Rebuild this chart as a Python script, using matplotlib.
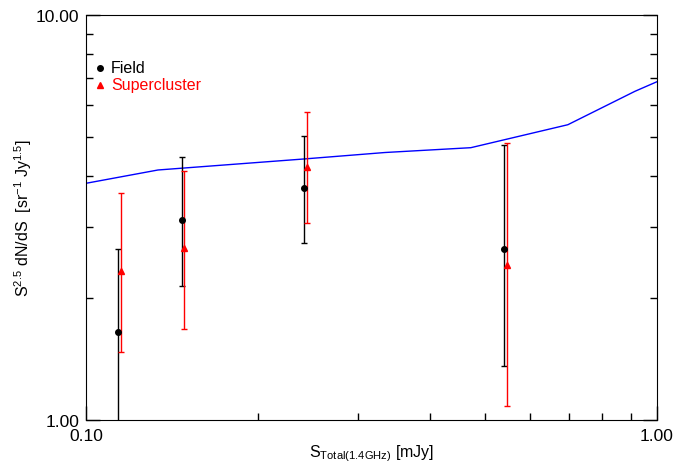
import numpy as np
import matplotlib
matplotlib.use('Agg')
from matplotlib import pyplot as plt
from matplotlib import ticker

plt.rcParams['font.family'] = ['Liberation Sans', 'DejaVu Sans']
plt.rcParams['mathtext.fontset'] = 'custom'
plt.rcParams['mathtext.rm'] = 'Liberation Sans'
plt.rcParams['mathtext.it'] = 'Liberation Sans'

# Field counts
field_x = [0.1139, 0.1473, 0.2410, 0.5400]
field_y = [1.646, 3.123, 3.730, 2.648]
field_hi = [2.644, 4.468, 5.017, 4.783]
field_lo = [0.80, 2.146, 2.735, 1.362]

# Supercluster counts
sc_x = [0.1150, 0.1487, 0.2435, 0.5456]
sc_y = [2.337, 2.655, 4.207, 2.418]
sc_hi = [3.628, 4.120, 5.771, 4.823]
sc_lo = [1.474, 1.675, 3.064, 1.083]

# model curve
model_x = [0.100, 0.1337, 0.241, 0.334, 0.472, 0.698, 0.915, 1.0]
model_y = [3.841, 4.143, 4.411, 4.576, 4.703, 5.359, 6.481, 6.844]

fig = plt.figure(figsize=(6.76, 4.64), dpi=100)
ax = fig.add_axes([0.1272, 0.0927, 0.8447, 0.8728])

ax.plot(model_x, model_y, color='blue', lw=1)

f_err = [np.array(field_y) - np.array(field_lo), np.array(field_hi) - np.array(field_y)]
s_err = [np.array(sc_y) - np.array(sc_lo), np.array(sc_hi) - np.array(sc_y)]
ax.errorbar(field_x, field_y, yerr=f_err, fmt='o', color='black', ms=4,
            elinewidth=1, capsize=2.5, capthick=1)
ax.errorbar(sc_x, sc_y, yerr=s_err, fmt='^', color='red', ms=5,
            elinewidth=1, capsize=2.5, capthick=1)

ax.set_xscale('log')
ax.set_yscale('log')
ax.set_xlim(0.1, 1.0)
ax.set_ylim(1.0, 10.0)

ax.xaxis.set_major_locator(ticker.FixedLocator([0.1, 1.0]))
ax.xaxis.set_major_formatter(ticker.FixedFormatter(['0.10', '1.00']))
ax.xaxis.set_minor_locator(ticker.LogLocator(subs=np.arange(2, 10)))
ax.xaxis.set_minor_formatter(ticker.NullFormatter())
ax.yaxis.set_major_locator(ticker.FixedLocator([1.0, 10.0]))
ax.yaxis.set_major_formatter(ticker.FixedFormatter(['1.00', '10.00']))
ax.yaxis.set_minor_locator(ticker.LogLocator(subs=np.arange(2, 10)))
ax.yaxis.set_minor_formatter(ticker.NullFormatter())

ax.tick_params(axis='both', which='both', direction='in', labelsize=12.5)
ax.tick_params(axis='y', which='both', left=True, right=True, pad=5)
ax.tick_params(axis='x', which='both', top=False, pad=6)
ax.tick_params(which='major', length=10, width=1)
ax.tick_params(which='minor', length=5, width=1)

ax.set_xlabel(r'S$_{\mathrm{Total(1.4GHz)}}$ [mJy]', fontsize=11.5, labelpad=-1)
ax.set_ylabel(r'S$^{2.5}$ dN/dS  [sr$^{-1}$ Jy$^{1.5}$]', fontsize=11.5, labelpad=1)

# legend drawn as symbols + text
ax.plot([0.1058], [7.40], 'o', color='black', ms=4)
ax.plot([0.1058], [6.72], '^', color='red', ms=4.5)
ax.text(0.1106, 7.40, 'Field', fontsize=11.5, va='center', color='black')
ax.text(0.1106, 6.72, 'Supercluster', fontsize=11.5, va='center', color='red')

fig.savefig('out.png', dpi=100)
